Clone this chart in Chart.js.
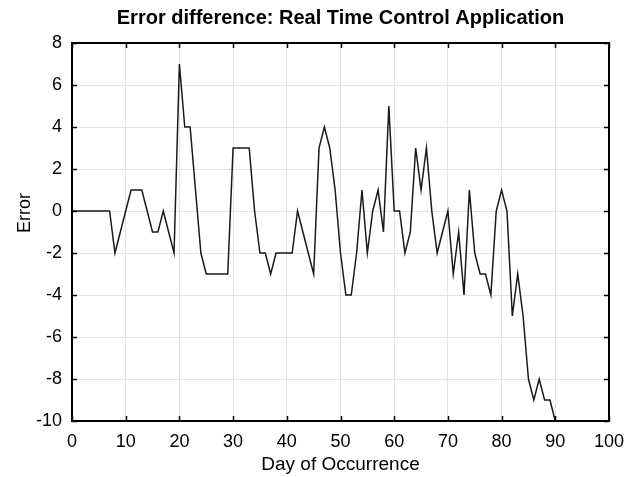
<!DOCTYPE html>
<html>
<head>
<meta charset="utf-8">
<script src="https://cdn.jsdelivr.net/npm/chart.js@4"></script>
<style>
  html, body { margin: 0; padding: 0; background: #fff; }
  #wrap { width: 626px; height: 477px; }
</style>
</head>
<body>
<div id="wrap"><canvas id="chart" width="626" height="477"></canvas></div>
<script>
// day of occurrence and error difference
const days = [0, 1, 2, 3, 4, 5, 6, 7, 8, 9, 10, 11, 12, 13, 14, 15, 16, 17, 18, 19,
  20, 21, 22, 23, 24, 25, 26, 27, 28, 29, 30, 31, 32, 33, 34, 35, 36, 37, 38, 39,
  40, 41, 42, 43, 44, 45, 46, 47, 48, 49, 50, 51, 52, 53, 54, 55, 56, 57, 58, 59,
  60, 61, 62, 63, 64, 65, 66, 67, 68, 69, 70, 71, 72, 73, 74, 75, 76, 77, 78, 79,
  80, 81, 82, 83, 84, 85, 86, 87, 88, 89, 90];
const errors = [0, 0, 0, 0, 0, 0, 0, 0, -2, -1, 0, 1, 1, 1, 0, -1, -1, 0, -1, -2,
  7, 4, 4, 1, -2, -3, -3, -3, -3, -3, 3, 3, 3, 3, 0, -2, -2, -3, -2, -2,
  -2, -2, 0, -1, -2, -3, 3, 4, 3, 1, -2, -4, -4, -2, 1, -2, 0, 1, -1, 5,
  0, 0, -2, -1, 3, 1, 3, 0, -2, -1, 0, -3, -1, -4, 1, -2, -3, -3, -4, 0,
  1, 0, -5, -3, -5, -8, -9, -8, -9, -9, -10];

const xTicks = [0, 10, 20, 30, 40, 50, 60, 70, 80, 90, 100];
const yTicks = [-10, -8, -6, -4, -2, 0, 2, 4, 6, 8];

const titleText = "Error difference: Real Time Control Application";
const yTitle = "Error";
const fontFamily = "'Liberation Sans', Arial, sans-serif";

// title, y title, frame and inward tick marks
const framePlugin = {
  id: "frame",
  afterDraw(chart) {
    const ctx = chart.ctx;
    const a = chart.chartArea;
    const xs = chart.scales.x, ys = chart.scales.y;
    ctx.save();
    ctx.strokeStyle = "#000";
    ctx.lineWidth = 1.5;
    ctx.beginPath();
    xTicks.forEach(function (t) {
      const px = Math.round(xs.getPixelForValue(t)) + 0.5;
      ctx.moveTo(px, a.bottom); ctx.lineTo(px, a.bottom - 5);
      ctx.moveTo(px, a.top); ctx.lineTo(px, a.top + 5);
    });
    yTicks.forEach(function (t) {
      const py = Math.round(ys.getPixelForValue(t)) + 0.5;
      ctx.moveTo(a.left, py); ctx.lineTo(a.left + 5, py);
      ctx.moveTo(a.right, py); ctx.lineTo(a.right - 5, py);
    });
    ctx.stroke();
    ctx.lineWidth = 2;
    ctx.strokeRect(a.left, a.top, a.right - a.left, a.bottom - a.top);

    ctx.fillStyle = "#000";
    ctx.font = "bold 20px " + fontFamily;
    ctx.textAlign = "center";
    ctx.textBaseline = "middle";
    ctx.fillText(titleText, (a.left + a.right) / 2, 18);

    ctx.font = "18px " + fontFamily;
    ctx.translate(25, 213);
    ctx.rotate(-Math.PI / 2);
    ctx.fillText(yTitle, 0, 0);
    ctx.restore();
  }
};

new Chart(document.getElementById("chart"), {
  type: "line",
  data: {
    datasets: [{
      data: days.map(function (d, i) { return { x: d, y: errors[i] }; }),
      borderColor: "#1a1a1a",
      borderWidth: 1.5,
      pointRadius: 0,
      tension: 0,
      fill: false
    }]
  },
  options: {
    responsive: false,
    animation: false,
    events: [],
    layout: { padding: { top: 43, left: 0, right: 17, bottom: 0 } },
    plugins: {
      legend: { display: false },
      tooltip: { enabled: false },
      title: { display: false }
    },
    scales: {
      x: {
        type: "linear",
        min: 0,
        max: 100,
        afterBuildTicks: function (s) { s.ticks = xTicks.map(function (v) { return { value: v }; }); },
        afterFit: function (s) { s.height = 56; s.paddingLeft = 0; s.paddingRight = 0; },
        ticks: {
          color: "#000",
          font: { family: fontFamily, size: 18 },
          padding: 10,
          maxRotation: 0
        },
        grid: { color: "#e3e3e3", lineWidth: 1, drawTicks: false },
        border: { display: false },
        title: {
          display: true,
          text: "Day of Occurrence",
          color: "#000",
          font: { family: fontFamily, size: 19 },
          padding: { top: 0, bottom: 1 }
        }
      },
      y: {
        min: -10,
        max: 8,
        afterBuildTicks: function (s) { s.ticks = yTicks.map(function (v) { return { value: v }; }); },
        afterFit: function (s) { s.width = 72; s.paddingTop = 0; s.paddingBottom = 0; },
        ticks: {
          color: "#000",
          font: { family: fontFamily, size: 18 },
          padding: 10
        },
        grid: { color: "#e3e3e3", lineWidth: 1, drawTicks: false },
        border: { display: false },
        title: { display: false }
      }
    }
  },
  plugins: [framePlugin]
});
</script>
</body>
</html>
